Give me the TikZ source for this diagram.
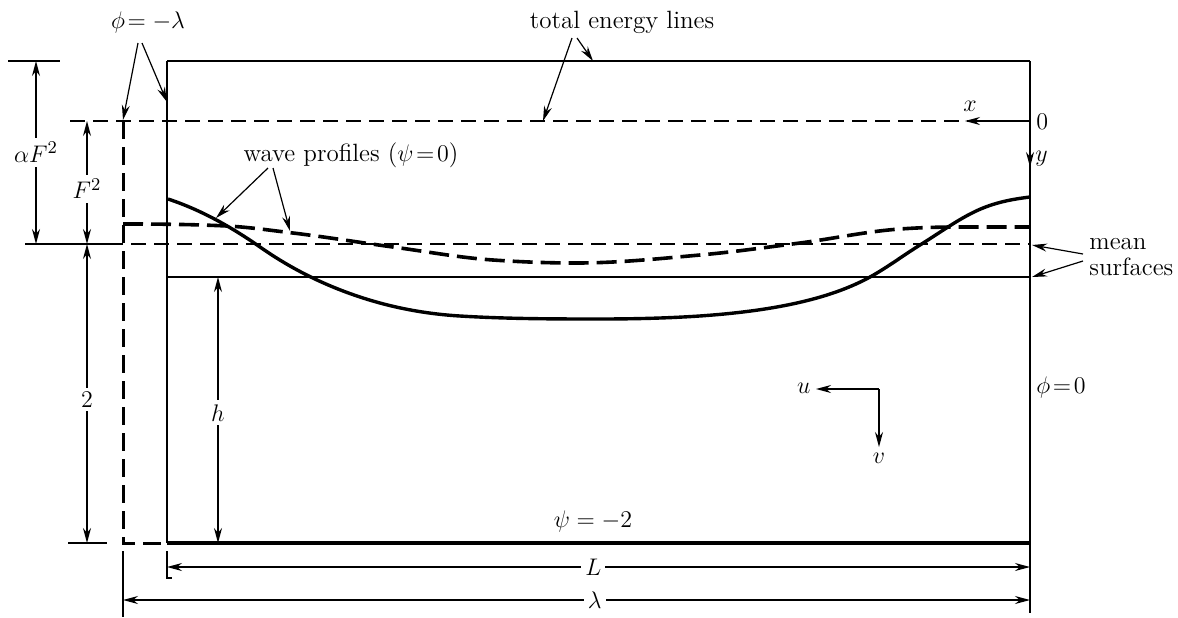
\documentclass[tikz,border=0pt]{standalone}
\usetikzlibrary{arrows.meta}
\begin{document}
\begin{tikzpicture}[x=0.5pt,y=-0.5pt,
  tip/.tip={Stealth[length=7.5pt,width=4pt]},
  arr/.style={-tip, line width=0.6pt},
  dimarr/.style={tip-tip, line width=0.6pt},
  thinline/.style={line width=0.6pt},
  dashthin/.style={line width=0.7pt, dash pattern=on 7.5pt off 4pt},
  dashthick/.style={line width=1.5pt, dash pattern=on 9pt off 4pt},
  dashwave/.style={line width=1.8pt, dash pattern=on 10pt off 4pt},
  wave/.style={line width=1.7pt},
  lbl/.style={font=\fontsize{12.5}{13}\selectfont, inner sep=1pt},
  gap/.style={lbl, fill=white, inner sep=2pt}]
\useasboundingbox (0,0) rectangle (1178,617);

% main box
\coordinate (TL) at (167,61);
\coordinate (TR) at (1030,61);
\coordinate (BL) at (167,543);
\coordinate (BR) at (1030,543);
\coordinate (O) at (1030,121);
\draw[line width=0.8pt] (TL) -- (TR);
\draw[line width=1pt] (TL) -- (BL);
\draw[line width=1pt] (TR) -- (BR);
\draw[line width=1.6pt] (BL) -- (BR);

% total energy line (dashed) and mean surfaces
\draw[dashthin] (70,121) -- (O);
\draw[thinline] (25,244) -- (108,244);
\draw[dashthin] (108,244) -- (1030,244);
\draw[thinline] (167,277) -- (1030,277);

% left periodic boundary (dashed)
\draw[dashthick] (123,121) -- (123,543) -- (BL);

% wave profile (solid)
\draw[wave] (168,199)
  .. controls (198.7,209.1) and (229.3,225.5) .. (260,247)
  .. controls (293.3,270.3) and (326.7,286) .. (360,297)
  .. controls (393.3,308) and (426.7,314) .. (460,316)
  .. controls (506,318.8) and (552,319) .. (598,319)
  .. controls (715,319) and (810,310) .. (870,277)
  .. controls (886.7,267.8) and (903.3,255.4) .. (920,245)
  .. controls (941,232) and (962,216.4) .. (983,208)
  .. controls (998.7,201.7) and (1014.3,198.9) .. (1030,197);

% wave profile (dashed)
\draw[dashwave] (123,224)
  .. controls (157.7,224) and (192.3,224.3) .. (227,226)
  .. controls (249,227.1) and (271,230.4) .. (293,233)
  .. controls (326.3,237) and (359.7,242.5) .. (393,247)
  .. controls (426.3,251.5) and (459.7,257.7) .. (493,260)
  .. controls (520.7,261.9) and (548.3,263) .. (576,263)
  .. controls (617.3,263) and (658.7,258.7) .. (700,255)
  .. controls (733.3,252) and (766.7,247.3) .. (800,243)
  .. controls (833.3,238.7) and (866.7,231.3) .. (900,229)
  .. controls (916.7,227.8) and (933.3,227.2) .. (950,227)
  .. controls (976.7,227) and (1003.3,227) .. (1030,227);

% ticks
\draw[thinline] (8,61) -- (60,61);
\draw[thinline] (68,543) -- (107,543);

% vertical dimensions
\draw[dimarr] (36,61) -- node[gap] (aF) {$\alpha F^2$} (36,244);
\draw[dimarr] (87,121) -- node[gap, pos=0.55] (F) {$F^2$} (87,244);
\draw[dimarr] (87,244) -- node[gap, pos=0.52] (two) {$2$} (87,543);
\draw[dimarr] (218,277) -- node[gap, pos=0.51] (h) {$h$} (218,543);

% extension lines
\draw[thinline] (BR) -- (1030,613);
\draw[thinline] (167,551) -- (167,578) -- (172,578);
\draw[thinline] (123,551) -- (123,617);

% horizontal dimensions
\draw[dimarr] (167,567) -- node[gap, pos=0.494] (L) {$L$} (1030,567);
\draw[dimarr] (123,600) -- node[gap, pos=0.520] (lam) {$\lambda$} (1030,600);

% axes at origin
\coordinate (xt) at (965,121);
\coordinate (yt) at (1030,167);
\draw[arr] (O) -- (xt);
\draw[arr] (O) -- (yt);
\node[lbl] (xl) at (970,106) {$x$};
\node[lbl, anchor=west] (zero) at (1034,122) {$0$};
\node[lbl, anchor=west] (yl) at (1033,159) {$y$};

% labels
\node[lbl] (phil) at (148,22) {$\phi\!=-\lambda$};
\coordinate (p1s) at (138,43);
\coordinate (p2s) at (142,43);
\coordinate (p1e) at (123,120);
\coordinate (p2e) at (167,102);
\draw[arr] (p1s) -- (p1e);
\draw[arr] (p2s) -- (p2e);

\node[lbl] (tel) at (622,22) {total energy lines};
\coordinate (t1s) at (572,38);
\coordinate (t2s) at (577,38);
\coordinate (t1e) at (543,121);
\coordinate (t2e) at (593,61);
\draw[arr] (t1s) -- (t1e);
\draw[arr] (t2s) -- (t2e);

\node[lbl] (wpl) at (351,155) {wave profiles ($\psi\!=\!0$)};
\coordinate (w1s) at (268,168);
\coordinate (w2s) at (273,168);
\coordinate (w1e) at (216,218);
\coordinate (w2e) at (290,231);
\draw[arr] (w1s) -- (w1e);
\draw[arr] (w2s) -- (w2e);

\node[lbl, anchor=west, align=left, inner sep=0pt] (msl) at (1089,257) {mean\\surfaces};
\coordinate (m1s) at (1083,254);
\coordinate (m2s) at (1083,261);
\coordinate (m1e) at (1032,245);
\coordinate (m2e) at (1032,277);
\draw[arr] (m1s) -- (m1e);
\draw[arr] (m2s) -- (m2e);

\node[lbl, anchor=west] (phi0) at (1034,387) {$\phi\!=\!0$};
\node[lbl] (psi2) at (593,521) {$\psi = -2$};

% velocity components
\coordinate (uv) at (879,389);
\coordinate (ut) at (816,389);
\coordinate (vt) at (879,447);
\draw[arr] (uv) -- (ut);
\draw[arr] (uv) -- (vt);
\node[lbl, anchor=east] (ul) at (813,388) {$u$};
\node[lbl] (vl) at (879,458) {$v$};
\end{tikzpicture}
\end{document}
